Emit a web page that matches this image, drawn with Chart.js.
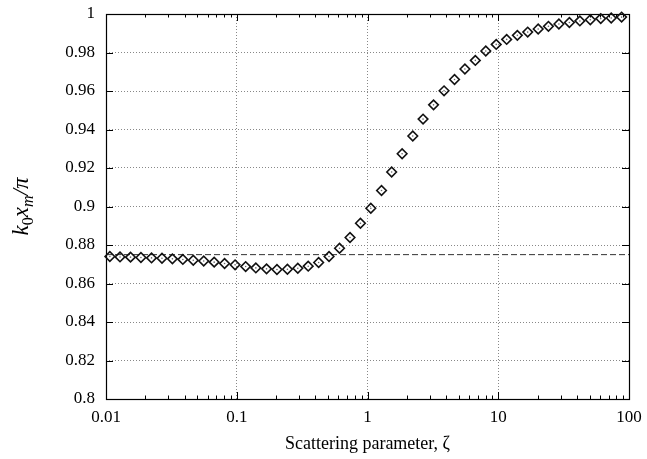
<!DOCTYPE html>
<html>
<head>
<meta charset="utf-8">
<script src="https://cdn.jsdelivr.net/npm/chart.js@4/dist/chart.umd.min.js"></script>
<style>
  html, body { margin: 0; padding: 0; background: #fff; }
</style>
</head>
<body>
<canvas id="chart" width="647" height="459"></canvas>
<script>
// scattering parameter values (log spaced in the picture)
const zeta = [
  0.0107, 0.0128, 0.0154, 0.0185, 0.0223, 0.0268, 0.0322, 0.0387, 0.0465, 0.0559,
  0.0672, 0.0807, 0.0971, 0.117, 0.140, 0.169, 0.203, 0.244, 0.293, 0.352,
  0.423, 0.508, 0.611, 0.735, 0.883, 1.06, 1.28, 1.53, 1.84, 2.22,
  2.66, 3.20, 3.85, 4.63, 5.56, 6.68, 8.03, 9.65, 11.6, 14.0,
  16.8, 20.2, 24.2, 29.1, 35.0, 42.1, 50.6, 60.8, 73.1, 87.8
];
// k0 xm / pi
const kxm = [
  0.8740, 0.8738, 0.8737, 0.8735, 0.8733, 0.8731, 0.8728, 0.8725, 0.8721, 0.8717,
  0.8711, 0.8704, 0.8697, 0.8688, 0.8681, 0.8676, 0.8673, 0.8674, 0.8679, 0.8690,
  0.8709, 0.8740, 0.8783, 0.8839, 0.8913, 0.8991, 0.9083, 0.9179, 0.9274, 0.9366,
  0.9454, 0.9528, 0.9601, 0.9660, 0.9714, 0.9759, 0.9808, 0.9842, 0.9868, 0.9889,
  0.9906, 0.9922, 0.9936, 0.9948, 0.9956, 0.9964, 0.9970, 0.9976, 0.9979, 0.9984
];
const refLevel = [0.875];
const xTicks = [0.01, 0.1, 1, 10, 100];
const yTicks = [0.8, 0.82, 0.84, 0.86, 0.88, 0.9, 0.92, 0.94, 0.96, 0.98, 1];

const serif = '"Liberation Serif", "DejaVu Serif", serif';
const points = zeta.map((x, i) => ({ x: x, y: kxm[i] }));

// solid frame + inward tics like gnuplot
const frame = {
  id: 'frame',
  beforeDatasetsDraw(chart) {
    const { ctx, chartArea: a, scales: { x, y } } = chart;
    ctx.save();
    ctx.strokeStyle = '#000';
    ctx.lineWidth = 1;
    ctx.beginPath();
    xTicks.forEach(v => {
      const px = Math.round(x.getPixelForValue(v)) + 0.5;
      ctx.moveTo(px, a.bottom); ctx.lineTo(px, a.bottom - 7);
      ctx.moveTo(px, a.top); ctx.lineTo(px, a.top + 7);
    });
    for (let d = 0; d < xTicks.length - 1; d++) {
      for (let m = 2; m < 10; m++) {
        const px = Math.round(x.getPixelForValue(xTicks[d] * m)) + 0.5;
        ctx.moveTo(px, a.bottom); ctx.lineTo(px, a.bottom - 3.5);
        ctx.moveTo(px, a.top); ctx.lineTo(px, a.top + 3.5);
      }
    }
    yTicks.forEach(v => {
      const py = Math.round(y.getPixelForValue(v)) + 0.5;
      ctx.moveTo(a.left, py); ctx.lineTo(a.left + 7, py);
      ctx.moveTo(a.right, py); ctx.lineTo(a.right - 7, py);
    });
    ctx.stroke();
    ctx.lineWidth = 1.2;
    ctx.strokeRect(Math.round(a.left) + 0.5, Math.round(a.top) + 0.5,
                   Math.round(a.right - a.left), Math.round(a.bottom - a.top));
    ctx.restore();
  },
  afterDraw(chart) {
    // y axis title k_0 x_m / pi
    const { ctx, chartArea: a } = chart;
    const parts = [
      { t: 'k', f: 'italic 23px ' + serif, dy: 0 },
      { t: '0', f: '16px ' + serif, dy: 5 },
      { t: 'x', f: 'italic 23px ' + serif, dy: 0 },
      { t: 'm', f: 'italic 16px ' + serif, dy: 5 },
      { t: '/π', f: 'italic 23px ' + serif, dy: 0 }
    ];
    ctx.save();
    ctx.translate(21, (a.top + a.bottom) / 2);
    ctx.rotate(-Math.PI / 2);
    ctx.fillStyle = '#000';
    ctx.textBaseline = 'alphabetic';
    let w = 0;
    parts.forEach(p => { ctx.font = p.f; w += ctx.measureText(p.t).width; });
    let cx = -w / 2;
    parts.forEach(p => {
      ctx.font = p.f;
      ctx.fillText(p.t, cx, 7 + p.dy);
      cx += ctx.measureText(p.t).width;
    });
    ctx.restore();
  }
};

new Chart(document.getElementById('chart'), {
  type: 'scatter',
  data: {
    datasets: [
      {
        data: points,
        pointStyle: 'rectRot',
        pointRadius: 4.8,
        borderColor: '#111',
        borderWidth: 1.6,
        backgroundColor: 'rgba(0,0,0,0)',
        showLine: false,
        clip: false
      },
      {
        data: points,
        pointStyle: 'circle',
        pointRadius: 0.8,
        borderWidth: 0,
        backgroundColor: '#666',
        showLine: false,
        clip: false
      },
      {
        data: [{ x: xTicks[0], y: refLevel[0] }, { x: xTicks[xTicks.length - 1], y: refLevel[0] }],
        showLine: true,
        borderColor: '#333',
        borderWidth: 1,
        borderDash: [6, 3],
        pointRadius: 0
      }
    ]
  },
  options: {
    responsive: false,
    animation: false,
    devicePixelRatio: 1,
    layout: { padding: { top: 14, right: 18, left: 0, bottom: 0 } },
    plugins: { legend: { display: false }, tooltip: { enabled: false } },
    scales: {
      x: {
        type: 'logarithmic',
        min: 0.01,
        max: 100,
        afterBuildTicks: s => { s.ticks = xTicks.map(v => ({ value: v })); },
        afterFit: s => { s.height = 60; s.paddingLeft = 0; s.paddingRight = 0; },
        ticks: {
          callback: v => String(v),
          color: '#000',
          font: { family: serif, size: 17 },
          padding: 8,
          maxRotation: 0,
          autoSkip: false
        },
        grid: { color: '#888', lineWidth: 1, drawTicks: false },
        border: { display: false, dash: [1, 2] },
        title: {
          display: true,
          text: 'Scattering parameter, ζ',
          color: '#000',
          font: { family: serif, size: 18 },
          padding: { top: 0, bottom: 4 }
        }
      },
      y: {
        min: 0.8,
        max: 1,
        afterBuildTicks: s => { s.ticks = yTicks.map(v => ({ value: v })); },
        afterFit: s => { s.width = 106; s.paddingTop = 0; s.paddingBottom = 0; },
        ticks: {
          callback: v => String(+v.toFixed(2)),
          color: '#000',
          font: { family: serif, size: 17 },
          padding: 11
        },
        grid: { color: '#888', lineWidth: 1, drawTicks: false },
        border: { display: false, dash: [1, 2] }
      }
    }
  },
  plugins: [frame]
});
</script>
</body>
</html>
